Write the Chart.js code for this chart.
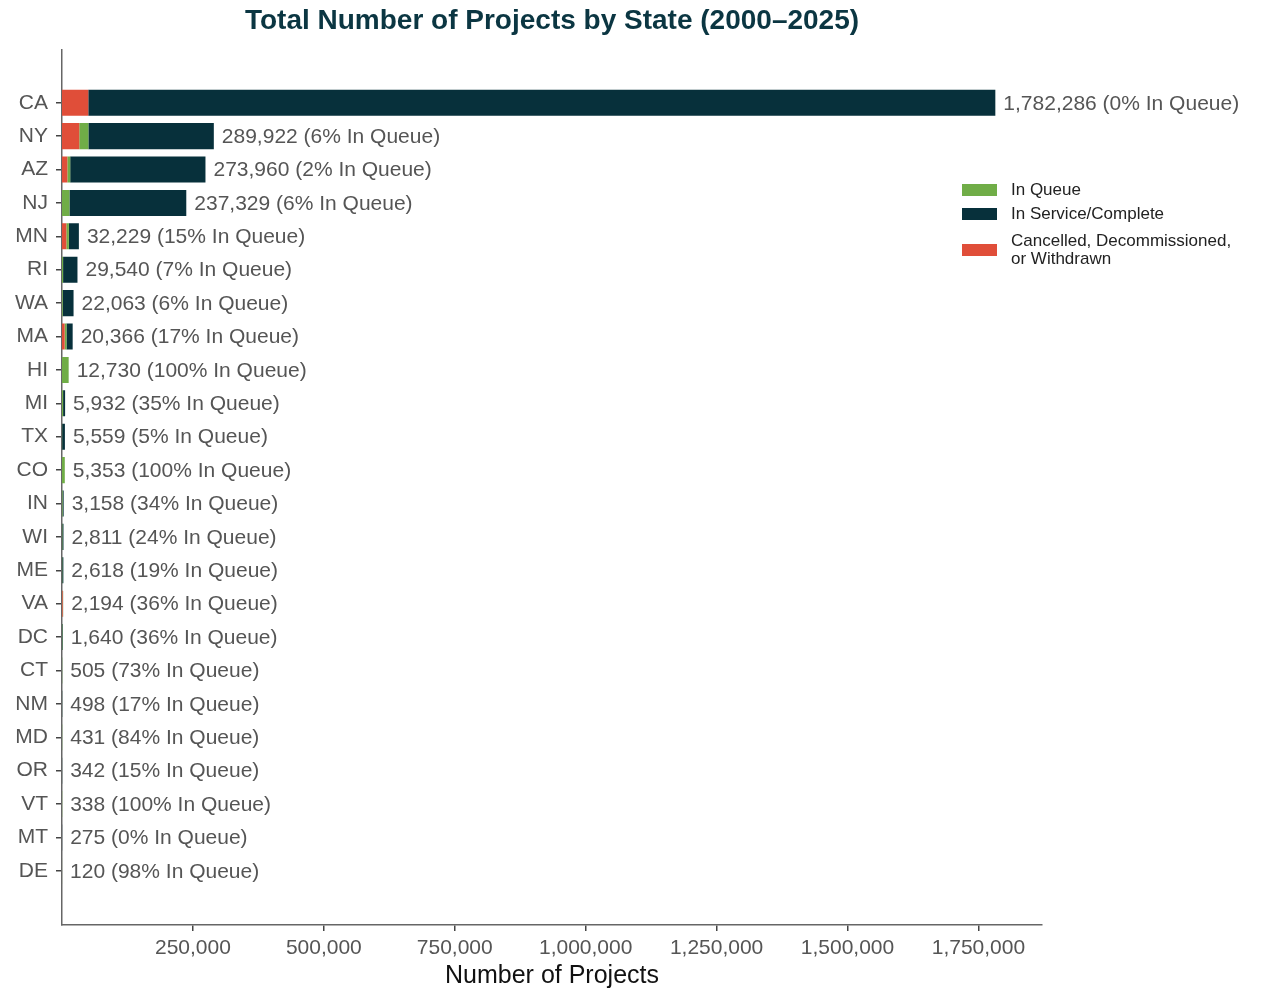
<!DOCTYPE html>
<html>
<head>
<meta charset="utf-8">
<title>Total Number of Projects by State</title>
<script src="https://cdn.jsdelivr.net/npm/chart.js@4.4.1/dist/chart.umd.min.js"></script>
<style>
  html, body { margin: 0; padding: 0; background: #fff; }
  #wrap { width: 1268px; height: 988px; }
</style>
</head>
<body>
<div id="wrap"><canvas id="chart" width="1268" height="988"></canvas></div>
<script>
// values
const states = ["CA","NY","AZ","NJ","MN","RI","WA","MA","HI","MI","TX","CO","IN","WI","ME","VA","DC","CT","NM","MD","OR","VT","MT","DE"];
const totals = [1782286,289922,273960,237329,32229,29540,22063,20366,12730,5932,5559,5353,3158,2811,2618,2194,1640,505,498,431,342,338,275,120];
const pctQueue = [0,6,2,6,15,7,6,17,100,35,5,100,34,24,19,36,36,73,17,84,15,100,0,98];

const cancelled = [50200,33000,10200,0,8300,0,0,5100,0,0,0,0,0,0,0,1300,0,0,0,0,0,0,0,0];
const inQueue   = [0,17400,5480,14240,4830,2070,1320,3460,12730,2080,280,5353,1070,670,500,790,590,369,85,362,51,338,0,118];
const inService = [1732086,239522,258280,223089,19099,27470,20743,11806,0,3852,5279,0,2088,2141,2118,104,1050,136,413,69,291,0,275,2];

const xTicks = [250000,500000,750000,1000000,1250000,1500000,1750000];

const COLORS = { queue: "#70ad47", service: "#07303b", cancelled: "#e04e39" };
const FONT = "'Liberation Sans', Arial, sans-serif";

Chart.defaults.font.family = FONT;

function toPoints(arr) {
  return arr.map((v, i) => ({ x: v, y: i }));
}

// totals + share in queue at the end of each bar
const endLabels = {
  id: "endLabels",
  afterDatasetsDraw(chart) {
    const { ctx, scales: { x, y } } = chart;
    ctx.save();
    ctx.font = "21px " + FONT;
    ctx.fillStyle = "#555";
    ctx.textBaseline = "middle";
    ctx.textAlign = "left";
    totals.forEach((t, i) => {
      const txt = t.toLocaleString("en-US") + " (" + pctQueue[i] + "% In Queue)";
      ctx.fillText(txt, x.getPixelForValue(t) + 8, y.getPixelForValue(i) + 1);
    });
    ctx.restore();
  }
};

// legend in the reference order: queue, service, cancelled
const sideLegend = {
  id: "sideLegend",
  afterDraw(chart) {
    const { ctx, chartArea } = chart;
    const left = chartArea.right - 80;
    const items = [
      { color: COLORS.queue, lines: ["In Queue"], y: 190 },
      { color: COLORS.service, lines: ["In Service/Complete"], y: 214 },
      { color: COLORS.cancelled, lines: ["Cancelled, Decommissioned,", "or Withdrawn"], y: 250 }
    ];
    ctx.save();
    ctx.font = "17px " + FONT;
    ctx.textBaseline = "middle";
    items.forEach(it => {
      ctx.fillStyle = it.color;
      ctx.fillRect(left, it.y - 6, 35, 12);
      ctx.fillStyle = "#222";
      if (it.lines.length === 1) {
        ctx.fillText(it.lines[0], left + 49, it.y);
      } else {
        ctx.fillText(it.lines[0], left + 49, it.y - 9);
        ctx.fillText(it.lines[1], left + 49, it.y + 9);
      }
    });
    ctx.restore();
  }
};

new Chart(document.getElementById("chart"), {
  type: "bar",
  data: {
    datasets: [
      { label: "Cancelled, Decommissioned, or Withdrawn", data: toPoints(cancelled), backgroundColor: COLORS.cancelled },
      { label: "In Queue", data: toPoints(inQueue), backgroundColor: COLORS.queue },
      { label: "In Service/Complete", data: toPoints(inService), backgroundColor: COLORS.service }
    ]
  },
  options: {
    indexAxis: "y",
    responsive: false,
    animation: false,
    devicePixelRatio: 1,
    categoryPercentage: 1,
    barPercentage: 0.78,
    layout: { padding: { top: 0, right: 226, bottom: 0, left: 0 } },
    plugins: {
      legend: { display: false },
      tooltip: { enabled: false },
      title: {
        display: true,
        fullSize: false,
        text: "Total Number of Projects by State (2000\u20132025)",
        color: "#0b3642",
        font: { size: 28, weight: "bold" },
        padding: { top: 4, bottom: 12 }
      }
    },
    scales: {
      x: {
        type: "linear",
        stacked: true,
        min: 0,
        max: 1871400,
        afterBuildTicks: s => { s.ticks = xTicks.map(v => ({ value: v })); },
        afterFit: s => { s.height = 63; },
        ticks: {
          color: "#555",
          font: { size: 21 },
          padding: 5,
          maxRotation: 0,
          callback: v => Number(v).toLocaleString("en-US")
        },
        grid: { display: true, drawTicks: true, drawOnChartArea: false, tickLength: 6, color: "#444", tickColor: "#444", tickWidth: 1.5, lineWidth: 1.5 },
        border: { color: "#666", width: 1.5 },
        title: {
          display: true,
          text: "Number of Projects",
          color: "#111",
          font: { size: 25 },
          padding: { top: 0, bottom: -3 }
        }
      },
      y: {
        type: "linear",
        stacked: true,
        reverse: true,
        offset: false,
        min: -1.59,
        max: 24.62,
        afterBuildTicks: s => { s.ticks = states.map((_, i) => ({ value: i })); },
        afterFit: s => { s.width = 62; },
        ticks: {
          color: "#555",
          font: { size: 21 },
          padding: 8,
          autoSkip: false,
          callback: v => states[v] || ""
        },
        grid: { display: true, drawTicks: true, offset: false, drawOnChartArea: false, tickLength: 6, color: "#444", tickColor: "#444", tickWidth: 1.5, lineWidth: 1.5 },
        border: { color: "#666", width: 1.5 }
      }
    }
  },
  plugins: [endLabels, sideLegend]
});
</script>
</body>
</html>
